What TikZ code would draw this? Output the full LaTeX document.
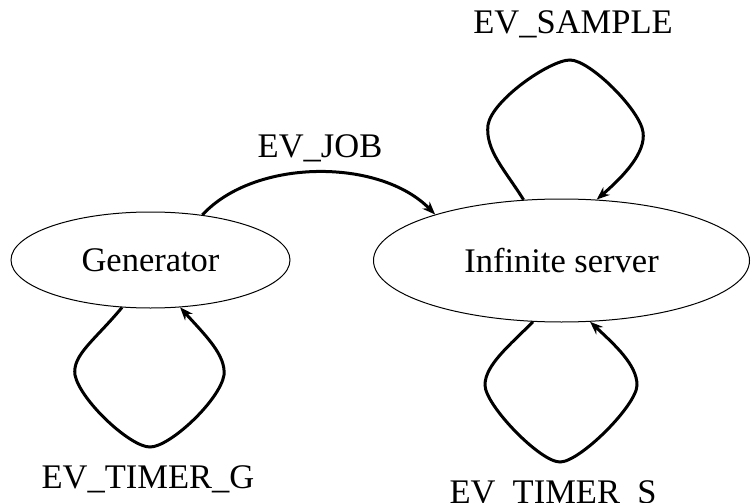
\documentclass[tikz,border=0pt]{standalone}
\usepackage{fontspec}
\setmainfont{Liberation Serif}
\usepackage{tikz}
\usetikzlibrary{shapes.geometric, arrows.meta}
\tikzset{
>={Stealth[length=13pt,width=10pt]}, % bold arrow heads
every node/.style={font=\fontsize{34.5}{40}\selectfont}, % one text size for everything
process/.style={ellipse, draw, line width=1pt, inner sep=0pt}, % the two processes
event/.style={->, line width=3pt}, % edges carrying events
evlabel/.style={anchor=base}, % event names, placed by their baseline
}

\begin{document}
\begin{tikzpicture}[x=1pt, y=-1pt]
        \useasboundingbox (0,0) rectangle (755,503);

        \node[process, minimum width=279pt, minimum height=96pt] (gen) at (150.5,260) {Generator};
        \node[process, minimum width=376pt, minimum height=123pt] (srv) at (561.5,260.5) {Infinite server};

        % job from the generator to the server
        \draw[event] (gen.41) .. controls (255,158) and (380,158) .. (srv.160);
        \node[evlabel] (job) at (320,157) {EV\_JOB};

        % generator timer
        \draw[event] (gen.239) .. controls (95,340) and (72,355) .. (75,375)
            .. controls (80,400) and (130,447) .. (150,447)
            .. controls (170,447) and (220,400) .. (224,375)
            .. controls (226,355) and (205,335) .. (gen.302);
        \node[evlabel] (timerg) at (148,488) {EV\_TIMER\_G};

        % sampling on the server
        \draw[event] (srv.122) .. controls (505,170) and (485,150) .. (488,125)
            .. controls (492,100) and (550,60) .. (570,60)
            .. controls (590,60) and (640,110) .. (643,132)
            .. controls (646,152) and (625,175) .. (srv.60);
        \node[evlabel] (sample) at (573,34) {EV\_SAMPLE};

        % server timer, its name runs off the bottom edge
        \draw[event] (srv.245) .. controls (510,345) and (485,365) .. (485,385)
            .. controls (485,405) and (540,462) .. (560,462)
            .. controls (580,462) and (637,405) .. (637,385)
            .. controls (637,365) and (615,345) .. (srv.295);
        \node[evlabel] (timers) at (553,503) {EV\_TIMER\_S};
    \end{tikzpicture}
\end{document}
